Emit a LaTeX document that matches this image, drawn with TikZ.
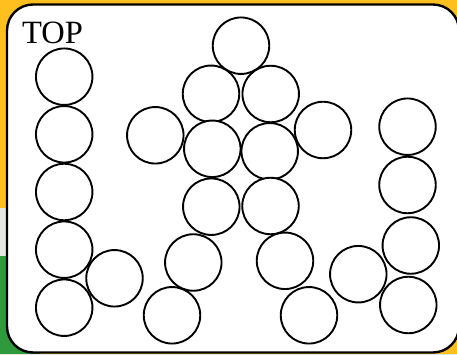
\documentclass[tikz,border=0pt]{standalone}
\usepackage{fontspec}
\setmainfont{Liberation Serif}
\usepackage{tikz}
\usetikzlibrary{positioning}
\definecolor{backyellow}{HTML}{FFBF1F}
\definecolor{backgray}{HTML}{E6E6E2}
\definecolor{backgreen}{HTML}{2F9A3C}
\tikzset{
  ball/.style={circle, draw=black, line width=1.9pt, fill=white, minimum size=56.5pt, inner sep=0pt},
  panel/.style={draw=black, line width=2.4pt, fill=white, rounded corners=26pt}
}

\begin{document}
\begin{tikzpicture}[x=1pt, y=-1pt]
  \useasboundingbox (0,0) rectangle (457,355);
  % Background
  \fill[backyellow] (0,0) rectangle (457,355);
  \fill[backgray] (0,208) rectangle (40,256);
  \fill[backgreen] (0,256) rectangle (40,355);
  \fill[backgray] (0,353.5) rectangle (457,355);
  % Panel
  \draw[panel] (7,4.5) rectangle (459,352.5);
  \node[anchor=base west, font=\fontsize{32.5}{32.5}\selectfont, inner sep=0pt] (title) at (22,44) {TOP};
  % Left column
  \foreach \y [count=\i] in {76.7,134.3,192,249.7,307.7}
    \node[ball] (left\i) at (64.2,\y) {};
  \node[ball] (leftfoot) at (114.5,278.3) {};
  % Middle figure
  \node[ball] (head) at (241,45.7) {};
  \node[ball] (neckl) at (211,93.8) {};
  \node[ball] (neckr) at (270.7,94) {};
  \node[ball] (bodyl) at (212.3,148.8) {};
  \node[ball] (bodyr) at (269.7,151.3) {};
  \node[ball] (arml) at (155.3,135.3) {};
  \node[ball] (armr) at (323,130) {};
  \node[ball] (hipl) at (211.3,206.7) {};
  \node[ball] (hipr) at (270.5,206) {};
  \node[ball] (kneel) at (193.3,262.5) {};
  \node[ball] (kneer) at (285,260.8) {};
  \node[ball] (footl) at (172,315.3) {};
  \node[ball] (footr) at (309,315.3) {};
  % Right column
  \node[ball] (right1) at (407.5,126.7) {};
  \node[ball] (right2) at (407.5,185) {};
  \node[ball] (right3) at (410.8,245.5) {};
  \node[ball] (right4) at (408.3,305) {};
  \node[ball] (rightfoot) at (358.3,274.2) {};
\end{tikzpicture}
\end{document}
